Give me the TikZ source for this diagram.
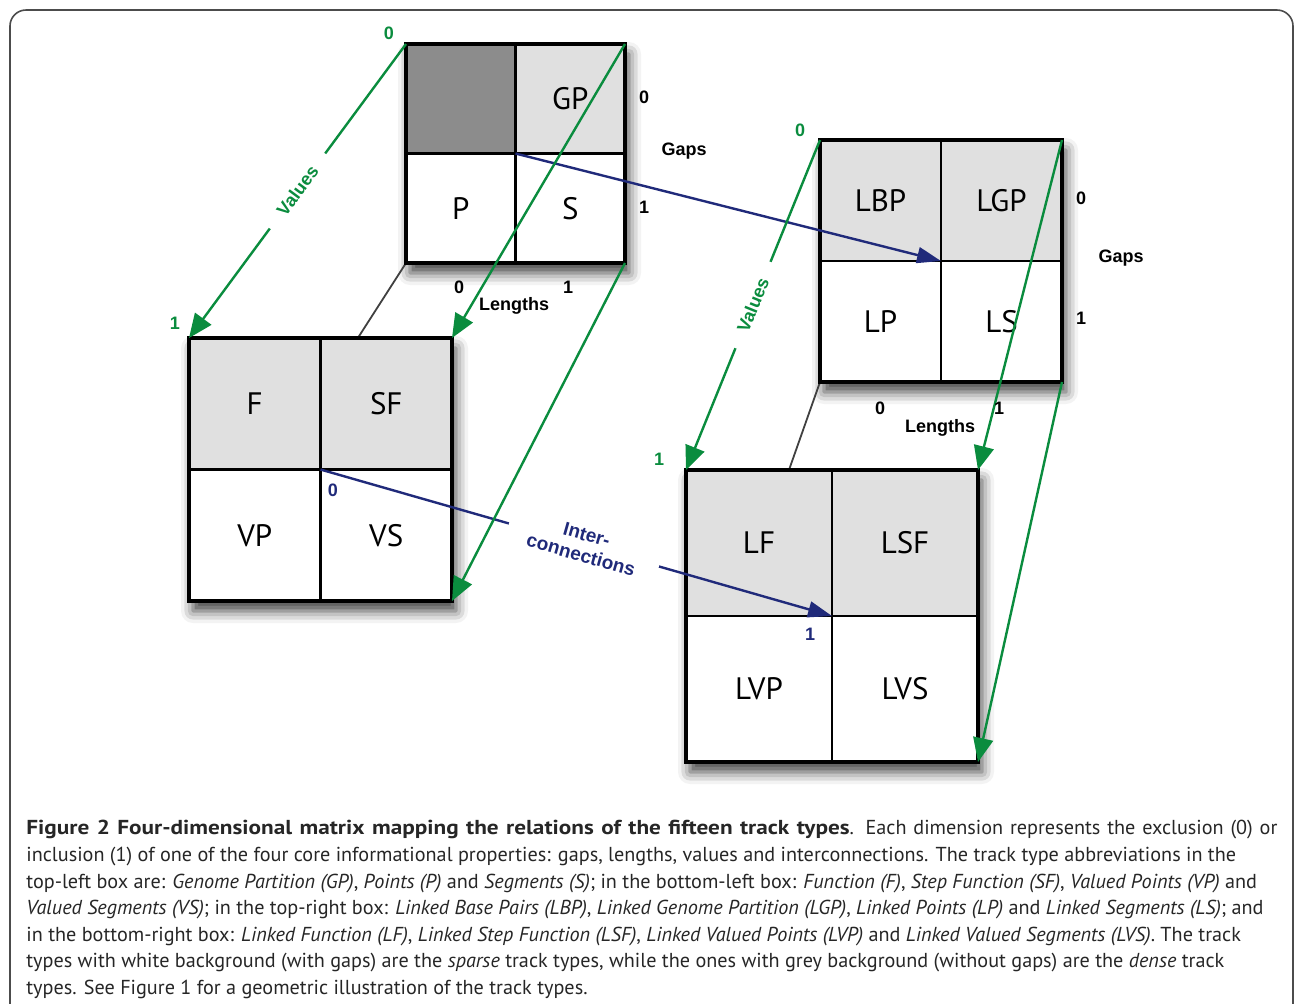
\documentclass[tikz,border=0pt]{standalone}
\usepackage{fontspec}
\setmainfont{PT Sans}
\newfontfamily\helv{Liberation Sans}
\newfontfamily\titulo[FakeStretch=1.15]{PT Sans}
\usetikzlibrary{positioning,arrows.meta,shadows.blur}
\definecolor{verde}{RGB}{10,140,62}
\definecolor{azul}{RGB}{32,42,122}
\definecolor{cinzaclaro}{RGB}{224,224,224}
\definecolor{cinzaescuro}{RGB}{140,140,140}
\pgfdeclarelayer{fundo}
\pgfsetlayers{fundo,main}
\tikzset{
  celula/.style={draw=black, line width=1.2pt, inner sep=0pt, outer sep=0pt,
    minimum size=#1, fill=white, font=\fontsize{15.5}{17}\selectfont},
  sombra/.style={fill=white, blur shadow={shadow xshift=2pt, shadow yshift=-5pt,
    shadow blur radius=6pt, shadow opacity=75}},
  rotulo/.style={font=\helv\bfseries\fontsize{9}{10}\selectfont, inner sep=1pt},
  seta/.style={-{Triangle[length=12pt,width=10pt]}, line width=1.2pt, verde},
  setaazul/.style={-{Triangle[length=12pt,width=8pt]}, line width=1.2pt, azul},
  oculta/.style={line width=0.9pt, black!75},
}
\begin{document}
\begin{tikzpicture}[x=0.5pt,y=-0.5pt]
\useasboundingbox (0,0) rectangle (1295,1003);

% moldura
\draw[rounded corners=8pt, line width=0.8pt, black!70] (10,10) rectangle (1293,1040);

% caixa superior esquerda
\node[celula=54.75pt, fill=cinzaescuro, anchor=north west] (vazio) at (406,44) {};
\node[celula=54.75pt, fill=cinzaclaro, right=0pt of vazio] (gp) {GP};
\node[celula=54.75pt, below=0pt of vazio] (p) {P};
\node[celula=54.75pt, right=0pt of p] (s) {S};
\draw[line width=1.6pt] (vazio.north west) rectangle (s.south east);

% caixa inferior esquerda
\node[celula=65.75pt, fill=cinzaclaro, anchor=north west] (f) at (189,338) {F};
\node[celula=65.75pt, fill=cinzaclaro, right=0pt of f] (sf) {SF};
\node[celula=65.75pt, below=0pt of f] (vp) {VP};
\node[celula=65.75pt, right=0pt of vp] (vs) {VS};
\draw[line width=1.6pt] (f.north west) rectangle (vs.south east);

% caixa superior direita
\node[celula=60.5pt, fill=cinzaclaro, anchor=north west] (lbp) at (820,140) {LBP};
\node[celula=60.5pt, fill=cinzaclaro, right=0pt of lbp] (lgp) {LGP};
\node[celula=60.5pt, below=0pt of lbp] (lp) {LP};
\node[celula=60.5pt, right=0pt of lp] (ls) {LS};
\draw[line width=1.6pt] (lbp.north west) rectangle (ls.south east);

% caixa inferior direita
\node[celula=73pt, fill=cinzaclaro, anchor=north west] (lf) at (686,470) {LF};
\node[celula=73pt, fill=cinzaclaro, right=0pt of lf] (lsf) {LSF};
\node[celula=73pt, below=0pt of lf] (lvp) {LVP};
\node[celula=73pt, right=0pt of lvp] (lvs) {LVS};
\draw[line width=1.6pt] (lf.north west) rectangle (lvs.south east);

% sombras e arestas escondidas (por baixo)
\begin{pgfonlayer}{fundo}
\path[sombra] (vazio.north west) rectangle (s.south east);
\path[sombra] (f.north west) rectangle (vs.south east);
\path[sombra] (lbp.north west) rectangle (ls.south east);
\path[sombra] (lf.north west) rectangle (lvs.south east);
\draw[oculta] (p.south west) -- (vp.south west);
\draw[oculta] (lp.south west) -- (lvp.south west);
\end{pgfonlayer}

% interconexoes
\draw[setaazul] (vazio.south east) -- (lbp.south east);
\draw[setaazul] (f.south east) -- node[pos=0.515, sloped, fill=white, align=center,
  inner xsep=11pt, inner ysep=1pt, font=\helv\bfseries\fontsize{9.5}{10.5}\selectfont]
  {Inter-\\connections} (lf.south east);

% valores
\draw[seta] (vazio.north west) -- node[midway, sloped, fill=white, rotulo,
  inner xsep=9pt] {Values} (f.north west);
\draw[seta] (gp.north east) -- (sf.north east);
\draw[seta] (s.south east) -- (vs.south east);
\draw[seta] (lbp.north west) -- node[midway, sloped, fill=white, rotulo,
  inner xsep=9pt] {Values} (lf.north west);
\draw[seta] (lgp.north east) -- (lsf.north east);
\draw[seta] (ls.south east) -- (lvs.south east);

% rotulos dos eixos
\node[rotulo, verde] (v0a) at (389,33) {0};
\node[rotulo, verde] (v1a) at (175,323) {1};
\node[rotulo, verde] (v0b) at (800,130) {0};
\node[rotulo, verde] (v1b) at (659,459) {1};
\node[rotulo, azul] (i0) at (333,490) {0};
\node[rotulo, azul] (i1) at (810,634) {1};

\node[rotulo] (ga0) at (644,97) {0};
\node[rotulo] (ga1) at (644,207) {1};
\node[rotulo] (gaps1) at (684,151) {Gaps};
\node[rotulo] (le0) at (459,287) {0};
\node[rotulo] (le1) at (568,287) {1};
\node[rotulo] (len1) at (514,306) {Lengths};

\node[rotulo] (gb0) at (1081,198) {0};
\node[rotulo] (gb1) at (1081,318) {1};
\node[rotulo] (gaps2) at (1121,258) {Gaps};
\node[rotulo] (lf0) at (880,408) {0};
\node[rotulo] (lf1) at (999,408) {1};
\node[rotulo] (len2) at (940,428) {Lengths};

% legenda
\node[anchor=north west, align=left, inner sep=0pt, text=black!85,
  font=\fontsize{10.1}{13.3}\selectfont] (legenda) at (26,820) {%
\makebox[625.5pt][s]{{\titulo\bfseries Figure 2 Four-dimensional matrix mapping the relations of the fifteen track types}. Each dimension represents the exclusion (0) or}\\
inclusion (1) of one of the four core informational properties: gaps, lengths, values and interconnections. The track type abbreviations in the\\
top-left box are: \textit{Genome Partition (GP)}, \textit{Points (P)} and \textit{Segments (S)}; in the bottom-left box: \textit{Function (F)}, \textit{Step Function (SF)}, \textit{Valued Points (VP)} and\\
\textit{Valued Segments (VS)}; in the top-right box: \textit{Linked Base Pairs (LBP)}, \textit{Linked Genome Partition (LGP)}, \textit{Linked Points (LP)} and \textit{Linked Segments (LS)}; and\\
in the bottom-right box: \textit{Linked Function (LF)}, \textit{Linked Step Function (LSF)}, \textit{Linked Valued Points (LVP)} and \textit{Linked Valued Segments (LVS)}. The track\\
types with white background (with gaps) are the \textit{sparse} track types, while the ones with grey background (without gaps) are the \textit{dense} track\\
types. See Figure 1 for a geometric illustration of the track types.};

\end{tikzpicture}
\end{document}
